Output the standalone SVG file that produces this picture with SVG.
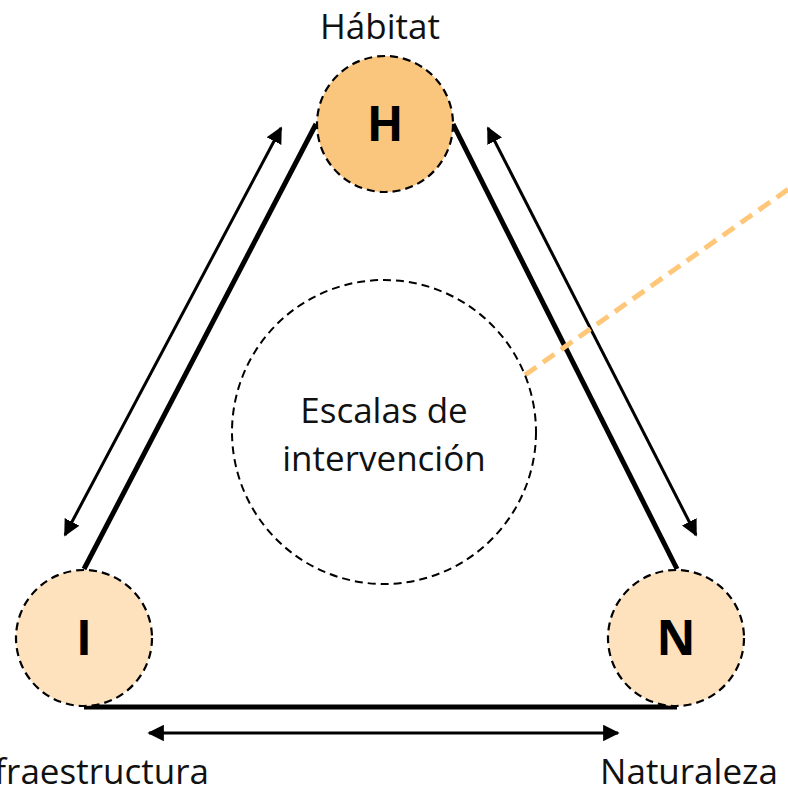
<svg xmlns="http://www.w3.org/2000/svg" width="788" height="793" viewBox="0 0 788 793">
<style>
.lbl{font-family:"Open Sans","Liberation Sans",sans-serif;font-size:35px;fill:#111;text-anchor:middle}
.ltr{font-family:"Open Sans","Liberation Sans",sans-serif;font-size:48px;font-weight:bold;fill:#000;text-anchor:middle}
.node{stroke:#000;stroke-width:2.2;stroke-dasharray:8 5}
.thick{stroke:#000;stroke-width:5;fill:none}
.thin{stroke:#000;stroke-width:3;fill:none;marker-start:url(#ah);marker-end:url(#ah)}
</style>
<defs>
<marker id="ah" viewBox="0 0 10 10" refX="9" refY="5" markerWidth="5.5" markerHeight="5.5" orient="auto-start-reverse" markerUnits="strokeWidth">
<path d="M0,0 L10,5 L0,10 z" fill="#000"/>
</marker>
</defs>
<rect width="788" height="793" fill="#fff"/>
<g id="connectors">
<line class="thick" x1="316" y1="124" x2="84" y2="569"/>
<line class="thick" x1="453" y1="124" x2="677" y2="569"/>
<line class="thick" x1="84" y1="707" x2="677" y2="707"/>
<line class="thin" x1="281" y1="128" x2="65" y2="535"/>
<line class="thin" x1="488" y1="128" x2="696" y2="535"/>
<line class="thin" x1="149" y1="733" x2="618" y2="733"/>
<line x1="525" y1="375" x2="800" y2="181" stroke="#FFC77A" stroke-width="5" stroke-dasharray="14 8"/>
</g>
<g id="scales">
<circle cx="384" cy="432" r="152" fill="none" stroke="#000" stroke-width="2" stroke-dasharray="8 5"/>
<text class="lbl" x="384" y="423">Escalas de</text>
<text class="lbl" x="384" y="471">intervención</text>
</g>
<g id="H">
<circle class="node" cx="385" cy="124" r="68" fill="#FAC57D"/>
<text class="ltr" x="385" y="141">H</text>
<text class="lbl" x="380" y="39">Hábitat</text>
</g>
<g id="I">
<circle class="node" cx="84" cy="638" r="68" fill="#FEE1BD"/>
<text class="ltr" x="84" y="655">I</text>
<text class="lbl" x="86" y="784">Infraestructura</text>
</g>
<g id="N">
<circle class="node" cx="676" cy="638" r="68" fill="#FEE1BD"/>
<text class="ltr" x="676" y="655">N</text>
<text class="lbl" x="689" y="784">Naturaleza</text>
</g>
</svg>
